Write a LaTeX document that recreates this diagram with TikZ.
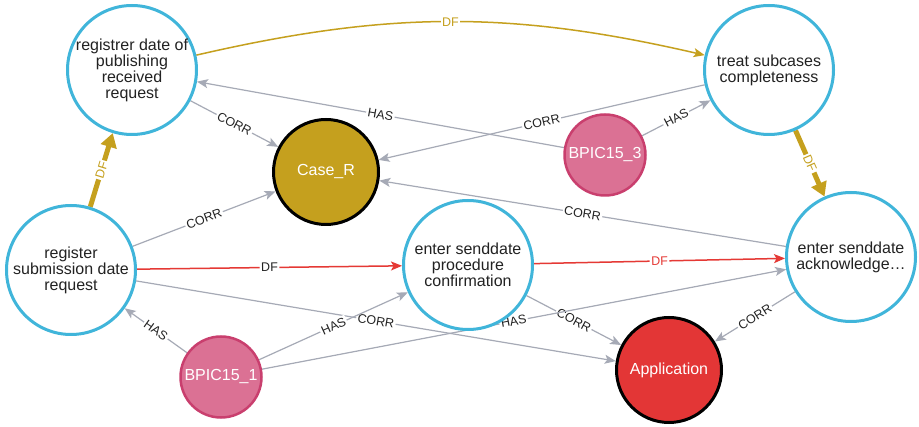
\documentclass[tikz,border=0pt]{standalone}
\usepackage{fontspec}
\setmainfont{Liberation Sans}
\usetikzlibrary{arrows.meta,backgrounds}
\definecolor{evblue}{RGB}{64,181,218}
\definecolor{dfgold}{RGB}{197,160,30}
\definecolor{entpink}{RGB}{219,113,148}
\definecolor{entborder}{RGB}{201,63,110}
\definecolor{appred}{RGB}{227,54,54}
\definecolor{relgray}{RGB}{166,170,182}
\definecolor{dfred}{RGB}{229,57,53}
\definecolor{txtgray}{RGB}{34,34,34}

\begin{document}
\begin{tikzpicture}[x=1pt,y=-1pt,every node/.style={font=\fontsize{16}{16}\selectfont}]
\tikzset{ev/.style={circle,draw=evblue,line width=3pt,fill=white,minimum size=129pt,inner sep=0pt,align=center,text=txtgray},
ent/.style={circle,draw=entborder,line width=2.5pt,fill=entpink,minimum size=81pt,inner sep=0pt,text=white},
grp/.style={circle,draw=black,line width=3pt,minimum size=105pt,inner sep=0pt,text=white},
rel/.style={relgray,line width=1.2pt,-{Stealth[length=11pt,width=9pt,inset=2.5pt]}},
dfthin/.style={line width=1.5pt,-{Stealth[length=11pt,width=9pt,inset=2.5pt]}},
dfthick/.style={dfgold,line width=5pt,-{Triangle[length=14pt,width=16pt]}},
lab/.style={fill=white,sloped,inner sep=1.5pt,font=\fontsize{12.5}{12.5}\selectfont,text=txtgray}}
\useasboundingbox (0,0) rectangle (919,427);

\node[ev](regpub) at (132,70) {registrer date of\\publishing\\received\\request};
\node[ev](treat) at (769,70) {treat subcases\\completeness};
\node[ev](regsub) at (71,270) {register\\submission date\\request};
\node[ev](sendproc) at (468,265) {enter senddate\\procedure\\confirmation};
\node[ev](sendack) at (851,257) {enter senddate\\acknowledge…};
\node[grp,fill=dfgold](caser) at (326,172) {Case\_R};
\node[grp,fill=appred](app) at (669,370) {Application};
\node[ent](bpic3) at (605,155) {BPIC15\_3};
\node[ent](bpic1) at (221,377) {BPIC15\_1};

\begin{scope}[on background layer]
\fill[white] (0,0) rectangle (919,427);
% directly follows
\draw[dfthin,dfgold] (regpub) to[bend left=13] node[lab,text=dfgold]{DF} (treat);
\draw[dfthick] (regsub) -- node[lab,text=dfgold]{DF} (regpub);
\draw[dfthick] (treat) -- node[lab,text=dfgold]{DF} (sendack);
\draw[dfthin,dfred] (regsub) -- node[lab]{DF} (sendproc);
\draw[dfthin,dfred] (sendproc) -- node[lab,text=dfred]{DF} (sendack);
% correlation
\draw[rel] (regpub) -- node[lab]{CORR} (caser);
\draw[rel] (regsub) -- node[lab]{CORR} (caser);
\draw[rel] (treat) -- node[lab]{CORR} (caser);
\draw[rel] (sendack) -- node[lab]{CORR} (caser);
\draw[rel] (regsub) -- node[lab]{CORR} (app);
\draw[rel] (sendproc) -- node[lab]{CORR} (app);
\draw[rel] (sendack) -- node[lab]{CORR} (app);
% has
\draw[rel] (bpic3) -- node[lab]{HAS} (regpub);
\draw[rel] (bpic3) -- node[lab]{HAS} (treat);
\draw[rel] (bpic1) -- node[lab]{HAS} (regsub);
\draw[rel] (bpic1) -- node[lab]{HAS} (sendproc);
\draw[rel] (bpic1) -- node[lab,pos=0.48]{HAS} (sendack);
\end{scope}
\end{tikzpicture}
\end{document}
